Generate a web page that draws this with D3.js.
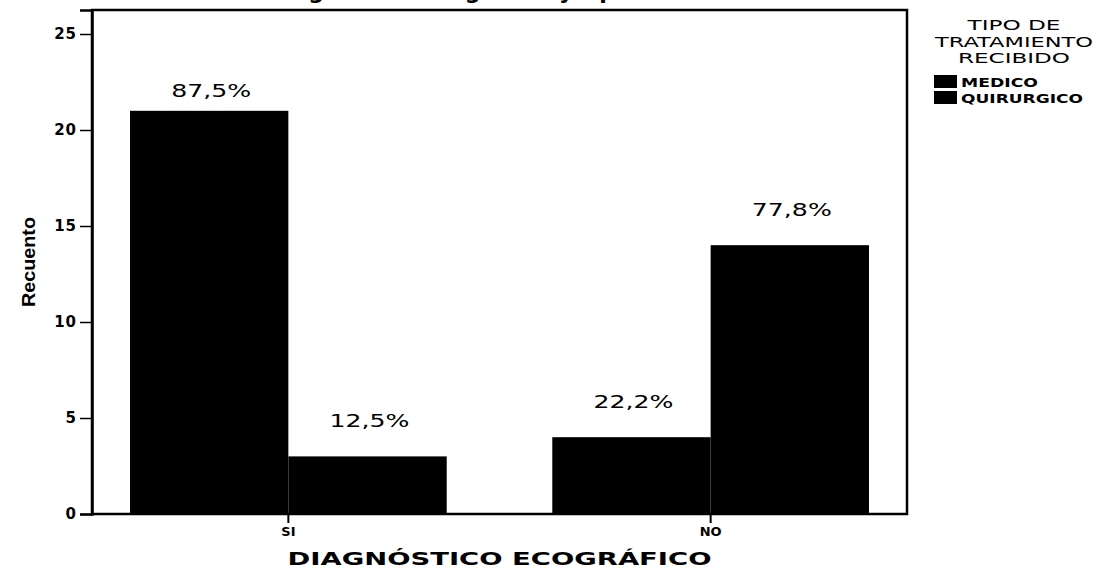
<!DOCTYPE html>
<html lang="es">
<head>
    <meta charset="UTF-8">
    <title>Diagnóstico ecográfico</title>
    <script src="https://d3js.org/d3.v7.min.js"></script>
    <style>
        body { margin: 0; background: #fff; }
        svg { display: block; }
        .axis path, .axis line { stroke: #000; }
        .axis text { fill: #000; font-family: "DejaVu Sans", sans-serif; font-weight: bold; }
        .bar { fill: #000; }
        .pct { font-family: "DejaVu Sans", sans-serif; font-size: 18px; }
    </style>
</head>
<body>
    <svg width="1106" height="573"></svg>
    <script>
        // data
        var categories = ["SI", "NO"];
        var series = ["MEDICO", "QUIRURGICO"];
        var medico = [21, 4];
        var quirurgico = [3, 14];
        var pctMedico = ["87,5%", "22,2%"];
        var pctQuirurgico = ["12,5%", "77,8%"];
        var yTicks = [0, 5, 10, 15, 20, 25];

        var data = [];
        categories.forEach(function (c, i) {
            data.push({cat: c, serie: series[0], value: medico[i], pct: pctMedico[i]});
            data.push({cat: c, serie: series[1], value: quirurgico[i], pct: pctQuirurgico[i]});
        });

        var svg = d3.select("svg"),
            margin = {top: 10, left: 92, right: 199, bottom: 59},
            width = +svg.attr("width") - margin.left - margin.right,
            height = +svg.attr("height") - margin.top - margin.bottom;

        var x0 = d3.scaleBand().domain(categories).range([0, width])
                .paddingInner(0.25).paddingOuter(0.09),
            x1 = d3.scaleBand().domain(series).range([0, x0.bandwidth()]),
            y = d3.scaleLinear().domain([0, 26.25]).range([height, 0]);

        // title, mostly cut off at the top of the picture as in the scan
        svg.append("text")
            .attr("x", 600)
            .attr("y", -1)
            .attr("text-anchor", "middle")
            .style("font-family", "DejaVu Sans, sans-serif")
            .style("font-weight", "bold")
            .style("font-size", "22px")
            .text("Diagnóstico ecográfico y tipo de tratamiento recibido");

        var g = svg.append("g")
            .attr("transform", "translate(" + margin.left + "," + margin.top + ")");

        g.selectAll(".bar")
            .data(data)
            .enter().append("rect")
            .attr("class", "bar")
            .attr("x", function (d) { return x0(d.cat) + x1(d.serie); })
            .attr("y", function (d) { return y(d.value); })
            .attr("width", x1.bandwidth())
            .attr("height", function (d) { return height - y(d.value); });

        g.selectAll(".pct")
            .data(data)
            .enter().append("text")
            .attr("class", "pct")
            .attr("x", function (d) { return x0(d.cat) + x1(d.serie) + x1.bandwidth() / 2 + 2; })
            .attr("y", function (d) { return Math.max(y(d.value) - 29, 87); })
            .attr("text-anchor", "middle")
            .attr("textLength", 80)
            .attr("lengthAdjust", "spacingAndGlyphs")
            .text(function (d) { return d.pct; });

        // frame
        g.append("rect")
            .attr("width", width)
            .attr("height", height)
            .attr("fill", "none")
            .attr("stroke", "#000")
            .attr("stroke-width", 2.5);

        var yAxis = g.append("g")
            .attr("class", "axis")
            .call(d3.axisLeft(y).tickValues(yTicks).tickSize(12).tickPadding(3));
        yAxis.select(".domain").attr("stroke-width", 2.5);
        yAxis.selectAll(".tick line").attr("stroke-width", 1.5);
        yAxis.selectAll("text").style("font-size", "15px").style("letter-spacing", "1px");

        var xAxis = g.append("g")
            .attr("class", "axis")
            .attr("transform", "translate(0," + height + ")")
            .call(d3.axisBottom(x0).tickSize(9).tickPadding(4));
        xAxis.select(".domain").remove();
        xAxis.selectAll(".tick line").attr("stroke-width", 2);
        xAxis.selectAll("text").style("font-size", "13px");

        // axis titles
        svg.append("text")
            .attr("x", margin.left + width / 2)
            .attr("y", 565)
            .attr("text-anchor", "middle")
            .attr("textLength", 424)
            .attr("lengthAdjust", "spacingAndGlyphs")
            .style("font-family", "DejaVu Sans, sans-serif")
            .style("font-weight", "bold")
            .style("font-size", "18px")
            .text("DIAGNÓSTICO ECOGRÁFICO");

        svg.append("text")
            .attr("transform", "translate(35," + (margin.top + height / 2) + ") rotate(-90)")
            .attr("text-anchor", "middle")
            .attr("textLength", 90)
            .attr("lengthAdjust", "spacingAndGlyphs")
            .style("font-family", "Liberation Sans, sans-serif")
            .style("font-weight", "bold")
            .style("font-size", "18px")
            .text("Recuento");

        // legend
        var legendTitle = ["TIPO DE", "TRATAMIENTO", "RECIBIDO"];
        var legendTitleWidth = [93, 158, 112];
        var legend = svg.append("g");
        legendTitle.forEach(function (t, i) {
            legend.append("text")
                .attr("x", 1014)
                .attr("y", 30 + i * 16.5)
                .attr("text-anchor", "middle")
                .attr("textLength", legendTitleWidth[i])
                .attr("lengthAdjust", "spacingAndGlyphs")
                .style("font-family", "DejaVu Sans, sans-serif")
                .style("font-size", "14px")
                .text(t);
        });
        var legendLabelWidth = [77, 122];
        var items = legend.selectAll(".item")
            .data(series)
            .enter().append("g")
            .attr("class", "item")
            .attr("transform", function (d, i) { return "translate(934," + (75 + i * 16) + ")"; });
        items.append("rect")
            .attr("width", 23)
            .attr("height", 13)
            .attr("fill", "#000");
        items.append("text")
            .attr("x", 27)
            .attr("y", 12)
            .attr("textLength", function (d, i) { return legendLabelWidth[i]; })
            .attr("lengthAdjust", "spacingAndGlyphs")
            .style("font-family", "DejaVu Sans, sans-serif")
            .style("font-weight", "bold")
            .style("font-size", "13px")
            .text(function (d) { return d; });
    </script>
</body>
</html>
